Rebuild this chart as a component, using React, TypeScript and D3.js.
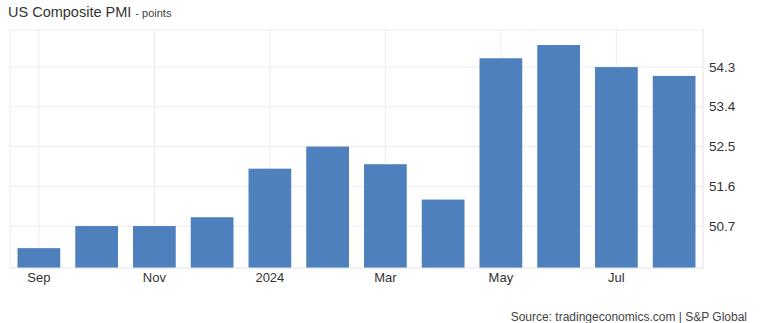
import React from "react";
import * as d3 from "d3";

const months = ["Sep", "Oct", "Nov", "Dec", "Jan", "Feb", "Mar", "Apr", "May", "Jun", "Jul", "Aug"];
const values = [50.2, 50.7, 50.7, 50.9, 52.0, 52.5, 52.1, 51.3, 54.5, 54.8, 54.3, 54.1];
const xLabels: Record<string, string> = { Sep: "Sep", Nov: "Nov", Jan: "2024", Mar: "Mar", May: "May", Jul: "Jul" };
const yTicks = [50.7, 51.6, 52.5, 53.4, 54.3];

const W = 760, H = 323;
const left = 10, right = 703, top = 30, bottom = 268;

export default function App() {
  const x = d3.scaleBand<string>().domain(months).range([left, right]).paddingInner(0.26).paddingOuter(0.13);
  const y = d3.scaleLinear().domain([49.75, 55.14]).range([bottom, top]);
  const font = "Arial, 'Liberation Sans', Helvetica, sans-serif";
  return (
    <svg width={W} height={H} style={{ position: "absolute", left: 0, top: 0 }} fontFamily={font}>
      <rect width={W} height={H} fill="#fff" />
      <text x={8} y={17} fontSize={14.5} fill="#333">
        US Composite PMI <tspan fontSize={11} fill="#444">- points</tspan>
      </text>
      {yTicks.map((t) => (
        <line key={t} x1={left} x2={right} y1={y(t)} y2={y(t)} stroke="#ececec" />
      ))}
      <line x1={left} x2={right} y1={top} y2={top} stroke="#ececec" />
      {months.filter((m) => xLabels[m]).map((m) => {
        const cx = (x(m) as number) + x.bandwidth() / 2;
        return <line key={m} x1={cx} x2={cx} y1={top} y2={bottom} stroke="#ececec" />;
      })}
      <line x1={left} x2={left} y1={top} y2={bottom} stroke="#ececec" />
      <line x1={right} x2={right} y1={top} y2={bottom} stroke="#e4e4e4" />
      {months.map((m, i) => (
        <rect key={m} x={x(m)} y={y(values[i])} width={x.bandwidth()} height={bottom - y(values[i])} fill="#4d80bd" />
      ))}
      <line x1={left} x2={right} y1={bottom} y2={bottom} stroke="#e4e4e4" />
      {months.filter((m) => xLabels[m]).map((m) => {
        const cx = (x(m) as number) + x.bandwidth() / 2;
        return (
          <text key={m} x={cx} y={282} fontSize={13} fill="#333" textAnchor="middle">
            {xLabels[m]}
          </text>
        );
      })}
      {yTicks.map((t) => (
        <text key={t} x={709} y={y(t) + 4.5} fontSize={13.5} fill="#333">
          {t.toFixed(1)}
        </text>
      ))}
      <text x={747} y={321} fontSize={12} fill="#444" textAnchor="end">
        Source: tradingeconomics.com | S&amp;P Global
      </text>
    </svg>
  );
}
